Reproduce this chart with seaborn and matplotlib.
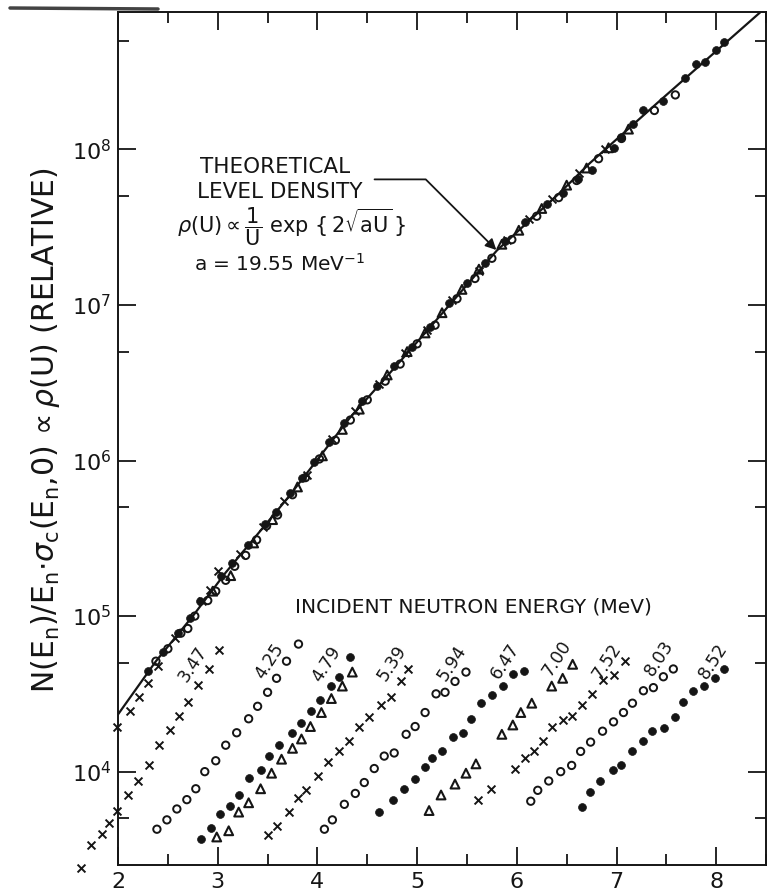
import numpy as np
import matplotlib
matplotlib.use('Agg')
import matplotlib.pyplot as plt
import seaborn as sns
from matplotlib.ticker import LogLocator, MultipleLocator, NullFormatter

# ---- data (x = U in MeV, y given as log10 of the relative value) ----
# theoretical level density curve
line_u = [1.98, 2.38, 2.75, 3.08, 3.69, 4.32, 4.82, 5.23, 5.80, 6.43, 6.73, 7.43, 8.44]
line_log = [4.35, 4.71, 5.00, 5.28, 5.75, 6.27, 6.63, 6.93, 7.35, 7.72, 7.91, 8.31, 8.88]

# points collapsed on the theoretical curve
up_cross_x = [1.99, 2.12, 2.21, 2.30, 2.40, 2.57, 2.84, 2.92, 3.00, 3.22, 3.45, 3.66, 3.90,
              4.15, 4.38, 4.62, 4.88, 5.10, 5.35, 5.62, 5.90, 6.12, 6.35, 6.62, 6.88]
up_cross_log = [4.29, 4.39, 4.48, 4.57, 4.68, 4.86, 5.10, 5.17, 5.29, 5.40, 5.57, 5.74, 5.91,
                6.14, 6.32, 6.49, 6.69, 6.84, 7.03, 7.22, 7.42, 7.55, 7.68, 7.85, 8.00]

up_open_x = [2.38, 2.50, 2.63, 2.70, 2.77, 2.90, 2.98, 3.08, 3.17, 3.28, 3.39, 3.49, 3.60,
             3.75, 3.88, 4.02, 4.18, 4.33, 4.50, 4.68, 4.83, 5.00, 5.18, 5.40, 5.58, 5.75,
             5.95, 6.20, 6.42, 6.60, 6.82, 7.05, 7.38, 7.59]
up_open_log = [4.71, 4.79, 4.89, 4.92, 5.00, 5.10, 5.16, 5.23, 5.32, 5.39, 5.49, 5.58, 5.65,
               5.78, 5.89, 6.01, 6.13, 6.26, 6.39, 6.51, 6.62, 6.75, 6.87, 7.04, 7.17, 7.30,
               7.42, 7.57, 7.69, 7.80, 7.94, 8.07, 8.25, 8.35]

up_full_x = [2.30, 2.45, 2.60, 2.72, 2.82, 3.03, 3.14, 3.30, 3.47, 3.58, 3.72, 3.85, 3.97,
             4.12, 4.27, 4.45, 4.60, 4.77, 4.95, 5.13, 5.32, 5.50, 5.68, 5.88, 6.08, 6.30,
             6.46, 6.61, 6.75, 6.97, 7.05, 7.17, 7.27, 7.47, 7.69, 7.80, 7.89, 8.00, 8.08]
up_full_log = [4.65, 4.77, 4.89, 4.99, 5.10, 5.26, 5.34, 5.46, 5.59, 5.67, 5.79, 5.89, 5.99,
               6.12, 6.24, 6.38, 6.48, 6.61, 6.73, 6.86, 7.01, 7.14, 7.27, 7.41, 7.53, 7.65,
               7.72, 7.81, 7.87, 8.01, 8.08, 8.16, 8.25, 8.31, 8.46, 8.55, 8.56, 8.64, 8.69]

up_tri_x = [2.95, 3.13, 3.36, 3.55, 3.80, 4.05, 4.25, 4.42, 4.70, 4.90, 5.08, 5.25, 5.45,
            5.62, 5.85, 6.02, 6.25, 6.50, 6.70, 6.92, 7.12]
up_tri_log = [5.16, 5.26, 5.47, 5.62, 5.83, 6.03, 6.20, 6.33, 6.55, 6.70, 6.82, 6.95, 7.10,
              7.23, 7.39, 7.48, 7.62, 7.77, 7.88, 8.01, 8.13]

# raw spectra for each incident neutron energy
e347_x = [1.63, 1.73, 1.84, 1.91, 1.99, 2.10, 2.20, 2.31, 2.41, 2.52, 2.61, 2.70, 2.80, 2.91, 3.01]
e347_log = [3.38, 3.53, 3.60, 3.67, 3.75, 3.85, 3.94, 4.04, 4.17, 4.27, 4.36, 4.45, 4.56, 4.66, 4.78]

e425_x = [2.39, 2.49, 2.59, 2.69, 2.78, 2.87, 2.98, 3.08, 3.19, 3.31, 3.40, 3.50, 3.59, 3.69, 3.81]
e425_log = [3.63, 3.69, 3.76, 3.82, 3.89, 4.00, 4.07, 4.17, 4.25, 4.34, 4.42, 4.51, 4.60, 4.71, 4.82]

e479_x = [2.83, 2.93, 3.02, 3.12, 3.21, 3.31, 3.43, 3.51, 3.61, 3.74, 3.84, 3.94, 4.03, 4.14, 4.22, 4.33]
e479_log = [3.57, 3.64, 3.73, 3.78, 3.85, 3.96, 4.01, 4.10, 4.17, 4.25, 4.31, 4.39, 4.46, 4.55, 4.61, 4.74]

e479t_x = [2.99, 3.11, 3.21, 3.31, 3.43, 3.54, 3.64, 3.75, 3.84, 3.93, 4.04, 4.14, 4.25, 4.35]
e479t_log = [3.58, 3.62, 3.74, 3.80, 3.89, 3.99, 4.08, 4.15, 4.21, 4.29, 4.38, 4.47, 4.55, 4.64]

e539_x = [3.50, 3.59, 3.71, 3.81, 3.89, 4.01, 4.11, 4.22, 4.32, 4.42, 4.52, 4.64, 4.74, 4.84, 4.91]
e539_log = [3.59, 3.65, 3.74, 3.83, 3.88, 3.97, 4.06, 4.13, 4.20, 4.29, 4.35, 4.43, 4.48, 4.58, 4.66]

e594_x = [4.07, 4.15, 4.27, 4.38, 4.47, 4.57, 4.67, 4.77, 4.89, 4.98, 5.08, 5.19, 5.28, 5.38, 5.49]
e594_log = [3.63, 3.69, 3.79, 3.86, 3.93, 4.02, 4.10, 4.12, 4.24, 4.29, 4.38, 4.50, 4.51, 4.58, 4.64]

e647_x = [4.62, 4.76, 4.87, 4.98, 5.08, 5.15, 5.25, 5.36, 5.46, 5.54, 5.64, 5.75, 5.86, 5.96, 6.07]
e647_log = [3.74, 3.82, 3.89, 3.95, 4.03, 4.09, 4.13, 4.22, 4.25, 4.34, 4.44, 4.49, 4.55, 4.63, 4.65]

e700_x = [5.12, 5.24, 5.38, 5.49, 5.59, 5.85, 5.96, 6.04, 6.15, 6.35, 6.46, 6.56]
e700_log = [3.75, 3.85, 3.92, 3.99, 4.05, 4.24, 4.30, 4.38, 4.44, 4.55, 4.60, 4.69]

e752_x = [5.61, 5.74, 5.98, 6.08, 6.17, 6.26, 6.35, 6.46, 6.55, 6.65, 6.75, 6.86, 6.97, 7.09]
e752_log = [3.82, 3.89, 4.02, 4.09, 4.13, 4.20, 4.29, 4.33, 4.36, 4.43, 4.50, 4.59, 4.62, 4.71]

e803_x = [6.14, 6.21, 6.32, 6.44, 6.55, 6.64, 6.74, 6.86, 6.97, 7.07, 7.16, 7.27, 7.37, 7.47, 7.57]
e803_log = [3.81, 3.88, 3.94, 4.00, 4.04, 4.13, 4.19, 4.26, 4.32, 4.38, 4.44, 4.52, 4.54, 4.61, 4.66]

e852_x = [6.65, 6.73, 6.83, 6.96, 7.05, 7.16, 7.27, 7.36, 7.48, 7.59, 7.67, 7.77, 7.88, 7.99, 8.08]
e852_log = [3.77, 3.87, 3.94, 4.01, 4.04, 4.13, 4.20, 4.26, 4.28, 4.35, 4.45, 4.52, 4.55, 4.60, 4.66]

energy_labels = ['3.47', '4.25', '4.79', '5.39', '5.94', '6.47', '7.00', '7.52', '8.03', '8.52']
label_x = [2.75, 3.52, 4.09, 4.75, 5.35, 5.88, 6.40, 6.90, 7.43, 7.97]
label_log = [4.69, 4.71, 4.69, 4.70, 4.70, 4.71, 4.73, 4.71, 4.73, 4.71]

sns.set_style('ticks')
plt.rcParams['font.family'] = ['DejaVu Sans']
plt.rcParams['mathtext.fontset'] = 'dejavusans'

fig = plt.figure(figsize=(7.73, 8.90), dpi=100)
ax = fig.add_axes([0.1527, 0.0281, 0.8383, 0.9579])
ax.set_yscale('log')

ink = '#151515'

def pts(xs, logs, kind):
    ys = [10 ** v for v in logs]
    if kind == 'x':
        sns.scatterplot(x=xs, y=ys, marker='x', s=32, color=ink, linewidth=1.4, ax=ax, clip_on=False, zorder=3)
    elif kind == 'o':
        sns.scatterplot(x=xs, y=ys, marker='o', s=28, color=ink, ax=ax, clip_on=False, zorder=3)
        ax.collections[-1].set_facecolor('none')
        ax.collections[-1].set_edgecolor(ink)
        ax.collections[-1].set_linewidth(1.4)
    elif kind == 'f':
        sns.scatterplot(x=xs, y=ys, marker='o', s=32, color=ink, edgecolor=ink, linewidth=0.5, ax=ax, clip_on=False, zorder=3)
    elif kind == '^':
        sns.scatterplot(x=xs, y=ys, marker='^', s=40, color=ink, ax=ax, clip_on=False, zorder=3)
        ax.collections[-1].set_facecolor('none')
        ax.collections[-1].set_edgecolor(ink)
        ax.collections[-1].set_linewidth(1.5)

# theory curve
sns.lineplot(x=line_u, y=[10 ** v for v in line_log], color=ink, linewidth=1.6, ax=ax, zorder=2)

# collapsed points
pts(up_cross_x, up_cross_log, 'x')
pts(up_open_x, up_open_log, 'o')
pts(up_full_x, up_full_log, 'f')
pts(up_tri_x, up_tri_log, '^')

# spectra at each incident energy
pts(e347_x, e347_log, 'x')
pts(e425_x, e425_log, 'o')
pts(e479_x, e479_log, 'f')
pts(e479t_x, e479t_log, '^')
pts(e539_x, e539_log, 'x')
pts(e594_x, e594_log, 'o')
pts(e647_x, e647_log, 'f')
pts(e700_x, e700_log, '^')
pts(e752_x, e752_log, 'x')
pts(e803_x, e803_log, 'o')
pts(e852_x, e852_log, 'f')

for lab, lx, ly in zip(energy_labels, label_x, label_log):
    ax.text(lx, 10 ** ly, lab, rotation=57, ha='center', va='center', fontsize=12.5, color=ink)

ax.text(5.56, 10 ** 5.058, 'INCIDENT NEUTRON ENERGY (MeV)', ha='center', va='center',
        fontsize=14.5, color=ink)

# annotation for the theoretical curve
ax.text(3.58, 10 ** 7.886, 'THEORETICAL', ha='center', va='center', fontsize=15.5, color=ink)
ax.text(3.62, 10 ** 7.725, 'LEVEL DENSITY', ha='center', va='center', fontsize=15.5, color=ink)
ax.text(3.74, 10 ** 7.505,
        r'$\rho(\mathrm{U}) \propto \dfrac{1}{\mathrm{U}}\ \mathrm{exp}\ \{\,2\sqrt{\mathrm{aU}}\,\}$',
        ha='center', va='center', fontsize=15, color=ink)
ax.text(3.62, 10 ** 7.267, r'a = 19.55 MeV$^{-1}$', ha='center', va='center', fontsize=14.5, color=ink)
ax.annotate('', xy=(5.795, 10 ** 7.353), xytext=(4.573, 10 ** 7.807),
            arrowprops=dict(arrowstyle='-|>', color=ink, lw=1.3, shrinkA=0, shrinkB=0,
                            mutation_scale=16,
                            connectionstyle='angle,angleA=0,angleB=135,rad=0'))

ax.set_xlim(2.0, 8.5)
ax.set_ylim(10 ** 3.40, 10 ** 8.88)
ax.xaxis.set_major_locator(MultipleLocator(1))
ax.xaxis.set_minor_locator(MultipleLocator(0.5))
ax.yaxis.set_major_locator(LogLocator(base=10))
ax.yaxis.set_minor_locator(LogLocator(base=10, subs=[5.0]))
ax.yaxis.set_minor_formatter(NullFormatter())
ax.tick_params(which='both', direction='in', top=True, right=True, width=1.3, colors=ink,
               labelsize=16)
ax.tick_params(which='major', length=13, pad=5)
ax.tick_params(which='minor', length=8)
ax.set_xlabel('')
ax.set_ylabel('')
for sp in ax.spines.values():
    sp.set_linewidth(1.4)
    sp.set_color(ink)

fig.text(46 / 773, 1 - 430 / 890,
         r'N(E$_\mathrm{n}$)/E$_\mathrm{n}$$\cdot\sigma_\mathrm{c}$(E$_\mathrm{n}$,0)$\,\propto\rho$(U) (RELATIVE)',
         rotation=90, ha='center', va='center', fontsize=21.5, color=ink)

# dark scan streak at the top left of the page
fig.add_artist(plt.Line2D([10 / 773, 158 / 773], [1 - 8 / 890, 1 - 9 / 890], color='#222222',
                          lw=2.5, alpha=0.85))

fig.savefig('out.png', dpi=100)
